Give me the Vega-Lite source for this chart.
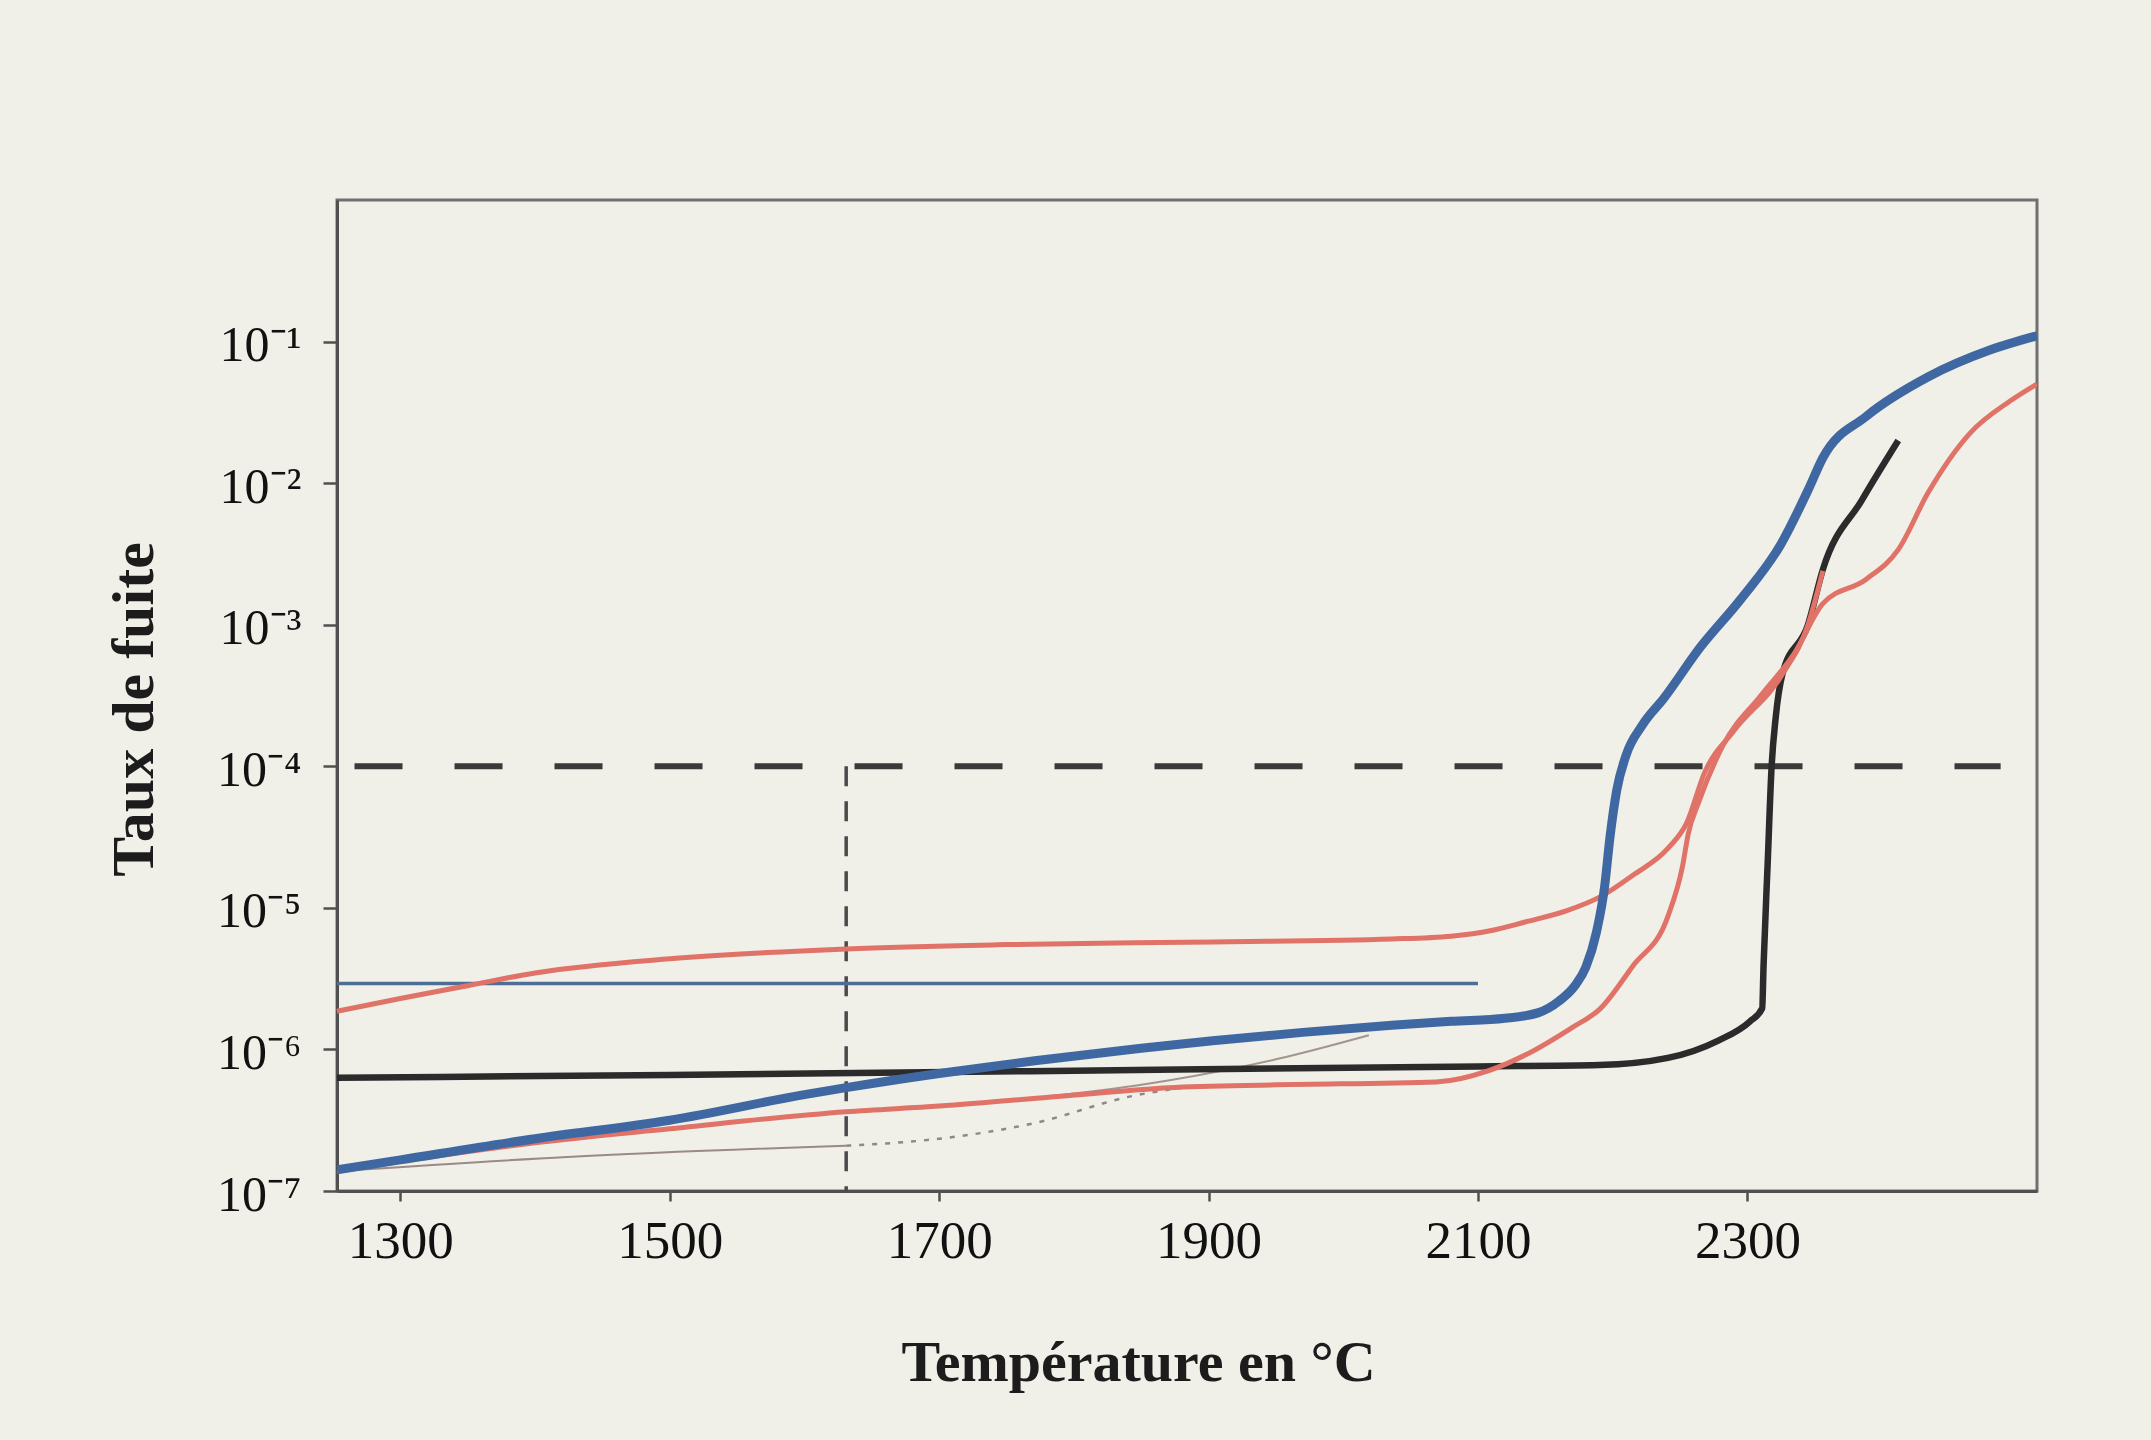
{
  "$schema": "https://vega.github.io/schema/vega-lite/v6.json",
  "width": 1700,
  "height": 991,
  "autosize": {"type": "none"},
  "padding": {"left": 337, "top": 200, "right": 114, "bottom": 249},
  "background": "#f0efe8",
  "config": {
    "view": {"stroke": "#707070", "strokeWidth": 3},
    "axis": {"grid": false, "domainColor": "#505050", "domainWidth": 3, "tickColor": "#505050", "tickWidth": 2.5,
             "labelFont": "Liberation Serif", "labelColor": "#111111", "titleFont": "Liberation Serif", "titleColor": "#1c1c1c", "titleFontWeight": "bold"}
  },
  "data": {"values": [
    {"s":"hd","T":1266,"v":1e-4},{"s":"hd","T":2488,"v":1e-4},
    {"s":"vd","T":1631,"v":1e-4,"v2":1e-7},
    {"s":"bt","T":1253,"v":2.92e-6},{"s":"bt","T":2100,"v":2.92e-6},
    {"s":"f1","T":1253,"v":1.38e-7},{"s":"f1","T":1424,"v":1.74e-7},{"s":"f1","T":1631,"v":2.09e-7},
    {"s":"dt","T":1631,"v":2.09e-7},{"s":"dt","T":1700,"v":2.34e-7},{"s":"dt","T":1771,"v":3.02e-7},{"s":"dt","T":1843,"v":4.68e-7},{"s":"dt","T":1880,"v":5.37e-7},
    {"s":"f2","T":1700,"v":3.98e-7},{"s":"f2","T":1870,"v":6.03e-7},{"s":"f2","T":1950,"v":8.51e-7},{"s":"f2","T":2019,"v":1.26e-6},
    {"s":"k","T":1253,"v":6.31e-7},{"s":"k","T":1500,"v":6.61e-7},{"s":"k","T":1800,"v":7.08e-7},{"s":"k","T":2100,"v":7.59e-7},{"s":"k","T":2190,"v":7.76e-7},{"s":"k","T":2241,"v":8.71e-7},{"s":"k","T":2278,"v":1.15e-6},{"s":"k","T":2302,"v":1.58e-6},{"s":"k","T":2311,"v":1.95e-6},{"s":"k","T":2312,"v":3.89e-6},{"s":"k","T":2315,"v":2.0e-5},{"s":"k","T":2318,"v":1.0e-4},{"s":"k","T":2321,"v":2.2e-4},{"s":"k","T":2326,"v":4.47e-4},{"s":"k","T":2345,"v":1.0e-3},{"s":"k","T":2356,"v":2.45e-3},{"s":"k","T":2385,"v":7.59e-3},{"s":"k","T":2412,"v":2.0e-2},
    {"s":"ru","T":1253,"v":1.86e-6},{"s":"ru","T":1300,"v":2.29e-6},{"s":"ru","T":1350,"v":2.82e-6},{"s":"ru","T":1400,"v":3.47e-6},{"s":"ru","T":1500,"v":4.37e-6},{"s":"ru","T":1631,"v":5.13e-6},{"s":"ru","T":1750,"v":5.5e-6},{"s":"ru","T":1903,"v":5.75e-6},{"s":"ru","T":2036,"v":6.03e-6},{"s":"ru","T":2080,"v":6.31e-6},{"s":"ru","T":2110,"v":6.92e-6},{"s":"ru","T":2135,"v":7.94e-6},{"s":"ru","T":2166,"v":9.55e-6},{"s":"ru","T":2191,"v":1.2e-5},{"s":"ru","T":2215,"v":1.7e-5},{"s":"ru","T":2241,"v":2.63e-5},{"s":"ru","T":2255,"v":3.98e-5},{"s":"ru","T":2268,"v":8.91e-5},{"s":"ru","T":2290,"v":1.78e-4},{"s":"ru","T":2326,"v":4.47e-4},{"s":"ru","T":2345,"v":1.0e-3},{"s":"ru","T":2356,"v":2.4e-3},
    {"s":"rl","T":1253,"v":1.38e-7},{"s":"rl","T":1300,"v":1.62e-7},{"s":"rl","T":1400,"v":2.19e-7},{"s":"rl","T":1500,"v":2.75e-7},{"s":"rl","T":1631,"v":3.63e-7},{"s":"rl","T":1700,"v":3.98e-7},{"s":"rl","T":1804,"v":4.79e-7},{"s":"rl","T":1870,"v":5.37e-7},{"s":"rl","T":1950,"v":5.62e-7},{"s":"rl","T":2069,"v":5.89e-7},{"s":"rl","T":2108,"v":7.08e-7},{"s":"rl","T":2135,"v":9.12e-7},{"s":"rl","T":2169,"v":1.41e-6},{"s":"rl","T":2191,"v":1.95e-6},{"s":"rl","T":2215,"v":3.89e-6},{"s":"rl","T":2241,"v":8.71e-6},{"s":"rl","T":2252,"v":2.0e-5},{"s":"rl","T":2256,"v":3.3e-5},{"s":"rl","T":2264,"v":5.62e-5},{"s":"rl","T":2282,"v":1.41e-4},{"s":"rl","T":2310,"v":3.16e-4},{"s":"rl","T":2335,"v":6.31e-4},{"s":"rl","T":2356,"v":1.41e-3},{"s":"rl","T":2388,"v":2.09e-3},{"s":"rl","T":2412,"v":3.39e-3},{"s":"rl","T":2434,"v":8.51e-3},{"s":"rl","T":2465,"v":2.24e-2},{"s":"rl","T":2495,"v":3.8e-2},{"s":"rl","T":2515,"v":5.01e-2},
    {"s":"b","T":1253,"v":1.41e-7},{"s":"b","T":1300,"v":1.66e-7},{"s":"b","T":1400,"v":2.34e-7},{"s":"b","T":1500,"v":3.16e-7},{"s":"b","T":1600,"v":4.79e-7},{"s":"b","T":1631,"v":5.37e-7},{"s":"b","T":1700,"v":6.76e-7},{"s":"b","T":1771,"v":8.32e-7},{"s":"b","T":1850,"v":1.02e-6},{"s":"b","T":1903,"v":1.15e-6},{"s":"b","T":1970,"v":1.32e-6},{"s":"b","T":2036,"v":1.48e-6},{"s":"b","T":2080,"v":1.58e-6},{"s":"b","T":2120,"v":1.66e-6},{"s":"b","T":2145,"v":1.82e-6},{"s":"b","T":2160,"v":2.19e-6},{"s":"b","T":2172,"v":2.82e-6},{"s":"b","T":2180,"v":3.8e-6},{"s":"b","T":2188,"v":6.76e-6},{"s":"b","T":2194,"v":1.41e-5},{"s":"b","T":2198,"v":3.16e-5},{"s":"b","T":2203,"v":6.76e-5},{"s":"b","T":2210,"v":1.2e-4},{"s":"b","T":2222,"v":1.95e-4},{"s":"b","T":2238,"v":3.02e-4},{"s":"b","T":2265,"v":6.92e-4},{"s":"b","T":2295,"v":1.51e-3},{"s":"b","T":2325,"v":3.72e-3},{"s":"b","T":2345,"v":8.91e-3},{"s":"b","T":2356,"v":1.51e-2},{"s":"b","T":2388,"v":2.95e-2},{"s":"b","T":2434,"v":5.62e-2},{"s":"b","T":2480,"v":8.71e-2},{"s":"b","T":2515,"v":0.11}
  ]},
  "encoding": {
    "x": {"field": "T", "type": "quantitative",
          "scale": {"domain": [1253, 2515], "nice": false, "zero": false},
          "axis": {"values": [1300, 1500, 1700, 1900, 2100, 2300], "format": "d", "labelFontSize": 53, "tickSize": 10, "labelPadding": 14,
                   "title": "Température en °C", "titleFontSize": 58, "titleX": 801, "titleY": 189, "titleBaseline": "alphabetic", "titleAlign": "center"}},
    "y": {"field": "v", "type": "quantitative",
          "scale": {"type": "log", "domain": [1e-7, 1], "nice": false},
          "axis": {"values": [1e-7, 1e-6, 1e-5, 1e-4, 1e-3, 1e-2, 1e-1],
                   "labelExpr": "'10' + ['⁻⁷','⁻⁶','⁻⁵','⁻⁴','⁻³','⁻²','⁻¹'][round(log(datum.value)/LN10)+7]",
                   "labelFontSize": 50, "tickSize": 14, "labelPadding": 22, "labelOffset": 4,
                   "title": "Taux de fuite", "titleFontSize": 60, "titleAngle": -90, "titleX": -185, "titleY": 509, "titleBaseline": "alphabetic", "titleAlign": "center"}}
  },
  "layer": [
    {"transform": [{"filter": "datum.s === 'hd'"}], "mark": {"type": "line", "color": "#3a3a3a", "strokeWidth": 6, "strokeDash": [48, 52], "strokeCap": "butt", "clip": true}},
    {"transform": [{"filter": "datum.s === 'vd'"}], "mark": {"type": "rule", "color": "#4a4a4a", "strokeWidth": 3.5, "strokeDash": [20, 15], "strokeCap": "butt"},
     "encoding": {"y2": {"field": "v2"}}},
    {"transform": [{"filter": "datum.s === 'f1'"}], "mark": {"type": "line", "color": "#9a8a86", "strokeWidth": 2, "interpolate": "monotone"}},
    {"transform": [{"filter": "datum.s === 'dt'"}], "mark": {"type": "line", "color": "#8a8a8a", "strokeWidth": 2.5, "strokeDash": [5, 8], "interpolate": "monotone"}},
    {"transform": [{"filter": "datum.s === 'f2'"}], "mark": {"type": "line", "color": "#a49490", "strokeWidth": 2, "interpolate": "monotone"}},
    {"transform": [{"filter": "datum.s === 'bt'"}], "mark": {"type": "line", "color": "#4d6f96", "strokeWidth": 3.5}},
    {"transform": [{"filter": "datum.s === 'k'"}], "mark": {"type": "line", "color": "#2b2b2b", "strokeWidth": 6.5, "interpolate": "monotone", "strokeJoin": "round"}},
    {"transform": [{"filter": "datum.s === 'ru'"}], "mark": {"type": "line", "color": "#e07268", "strokeWidth": 5, "interpolate": "monotone"}},
    {"transform": [{"filter": "datum.s === 'rl'"}], "mark": {"type": "line", "color": "#e07268", "strokeWidth": 5, "interpolate": "monotone", "clip": true}},
    {"transform": [{"filter": "datum.s === 'b'"}], "mark": {"type": "line", "color": "#3f68a3", "strokeWidth": 9, "interpolate": "monotone", "clip": true}}
  ]
}
